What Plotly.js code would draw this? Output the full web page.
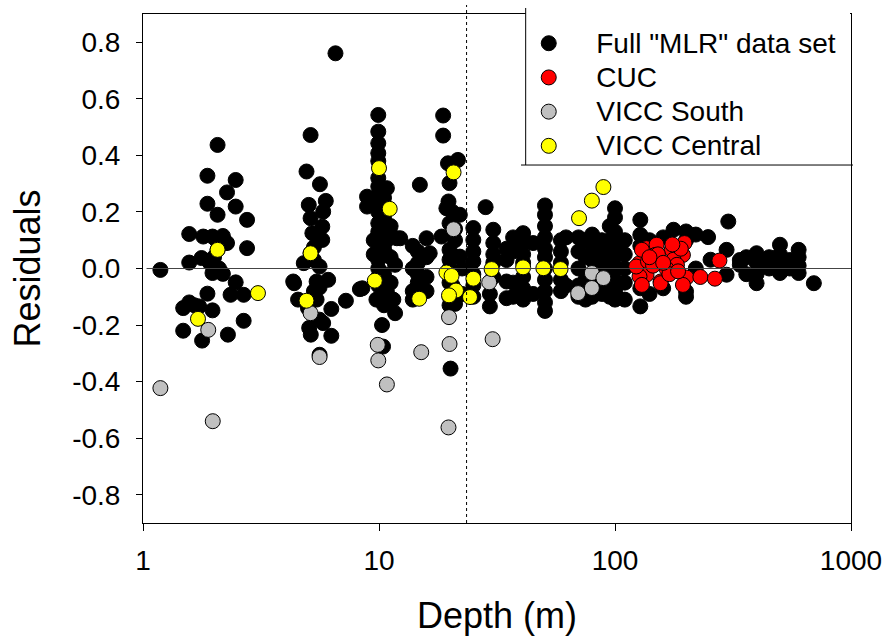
<!DOCTYPE html>
<html><head><meta charset="utf-8">
<script src="https://cdn.plot.ly/plotly-3.0.1.min.js"></script>
<style>html,body{margin:0;padding:0;background:#fff}</style>
</head><body><div id="chart" style="width:890px;height:637px"></div>
<script>
// Full "MLR" data set
const mlrDepth = [
 2.07,1.875,2.47,2.27,1.875,2.47,2.07,2.76,1.57,1.8,1.97,2.18,2.05,2.27,2.76,2.07,2.0,1.57,1.77,1.92,2.1,1.185,1.97,2.18,2.47,1.875,2.35,2.67,1.57,1.48,1.65,1.73,1.97,1.48,2.67,1.78,2.29,
 6.54,5.13,4.93,5.62,5.04,5.95,5.8,5.13,5.75,5.22,5.75,5.3,5.13,5.3,4.8,5.6,4.33,5.44,6.09,4.37,5.6,8.3,5.3,4.54,5.44,7.24,5.0,6.28,5.6,5.8,5.06,5.14,6.28,5.6,
 9.93,9.93,9.93,9.93,9.93,9.93,9.93,9.93,9.93,9.93,9.93,9.93,9.93,9.93,9.93,9.93,9.93,9.93,
 8.9,8.9,10.8,10.8,10.8,10.8,10.8,11.9,11.7,11.7,8.5,9.75,11.5,10.3,10.4,9.5,9.5,10.5,10.5,10.5,10.5,10.5,10.5,11.2,11.2,11.2,12.3,
 13.9,13.9,13.9,13.9,14.6,14.6,14.6,14.6,14.2,15.9,15.9,15.9,15.9,16.4,14.9,18.4,18.7,18.7,19.6,21.6,
 19.9,19.9,19.9,19.9,19.9,19.9,19.9,19.9,19.7,19.3,22,22,21,21,21,20.5,20.5,20.5,20.1,22.5,22.5,
 25.1,25.1,25.1,25.1,25.1,25.1,25.1,28.3,30.5,30.5,30.5,30.5,30.5,29.5,29.5,34.7,34.7,34.7,34.7,
 37,37,37,37,40.8,40.8,40.8,40.8,40.8,40.8,40.8,45,45,
 50.5,50.5,50.5,50.5,50.5,50.5,50.5,50.5,50.5,50.5,50.5,59,59,59,59,59,62,62,
 70,70,70,70,70,75,75,75,75,80,80,80,80,80,80,88,88,88,88,88,95,95,95,95,95,95,
 100,100,100,100,100,100,100,100,100,
 110,110,110,110,110,128,128,128,128,128,140,140,160,160,177,200,200,200,200,220,220,248,254,297,297,302,338,338,360,360,
 398,398,398,398,450,450,500,500,500,500,550,550,600,600,600,600,696
];
const mlrResid = [
 0.437,0.328,0.313,0.269,0.229,0.219,0.19,0.172,0.122,0.113,0.113,0.115,0.1,0.09,0.072,0.066,0.04,0.021,0.037,0.02,0.0,-0.005,-0.016,-0.019,-0.049,-0.089,-0.093,-0.093,-0.12,-0.14,-0.13,-0.134,-0.148,-0.22,-0.185,-0.255,-0.234,
 0.761,0.472,0.343,0.298,0.225,0.239,0.201,0.178,0.148,0.125,0.101,0.075,0.054,0.03,0.019,0.007,-0.046,-0.046,-0.04,-0.052,-0.067,-0.073,-0.08,-0.11,-0.11,-0.114,-0.14,-0.143,-0.181,-0.193,-0.21,-0.234,-0.238,-0.305,
 0.543,0.484,0.443,0.408,0.38,0.32,0.29,0.26,0.235,0.2,0.16,0.13,0.09,0.06,0.03,0.0,-0.03,-0.06,
 0.254,0.219,0.284,0.15,0.1,0.048,-0.081,0.107,0.013,-0.158,-0.07,-0.11,-0.11,-0.2,-0.276,0.1,0.05,0.25,0.18,0.12,0.07,-0.02,-0.13,0.15,0.04,-0.05,0.107,
 0.08,0.0,-0.08,-0.11,0.06,0.019,-0.02,-0.05,-0.099,0.107,0.04,-0.03,-0.08,0.054,0.296,0.113,0.541,0.47,0.372,0.384,
 0.302,0.16,0.066,0.031,0.0,-0.05,-0.1,-0.13,0.237,0.213,0.19,0.042,0.14,0.1,-0.125,0.2,0.12,-0.06,-0.354,0.0,-0.09,
 0.143,0.101,0.06,0.025,-0.02,-0.06,-0.1,0.217,0.137,0.09,0.05,0.02,-0.03,-0.09,-0.134,0.07,0.03,-0.046,-0.105,
 0.11,0.06,-0.05,-0.1,0.125,0.09,0.05,0.02,-0.03,-0.07,-0.11,0.09,-0.09,
 0.223,0.19,0.15,0.11,0.07,0.04,0.0,-0.04,-0.08,-0.12,-0.15,0.1,0.06,0.02,-0.04,-0.08,0.11,-0.06,
 0.11,0.06,0.0,-0.06,-0.1,0.1,0.04,-0.04,-0.11,0.12,0.08,0.03,-0.02,-0.08,-0.1,0.1,0.05,0.0,-0.05,-0.09,0.15,0.1,0.06,0.01,-0.05,-0.1,
 0.213,0.18,0.13,0.08,0.04,0.0,-0.04,-0.08,-0.11,
 0.1,0.05,0.0,-0.05,-0.11,0.172,0.119,0.08,-0.07,-0.134,0.1,-0.09,0.11,-0.07,0.137,0.131,0.1,-0.081,-0.1,0.12,0.0,0.111,0.031,0.066,-0.022,0.166,0.013,0.03,0.04,-0.02,
 0.054,0.02,-0.02,-0.052,0.04,0.0,0.084,0.05,0.02,-0.016,0.03,0.0,0.066,0.04,0.01,-0.016,-0.052
];
// CUC
const cucDepth = [136,150,148,174,197,194,177,127,136,156,201,230,265,277,194,127,130,152,123,130,156,138,183,165,145,170,185,160,140,190,175];
const cucResid = [0.072,0.084,0.048,0.066,0.09,0.048,0.031,0.019,-0.022,-0.046,-0.032,-0.03,-0.036,0.028,-0.058,-0.028,0.066,0.05,0.007,-0.058,-0.052,0.025,0.013,0.0,0.01,-0.02,-0.01,0.02,0.04,0.07,0.085];
// VICC South
const vsDepth = [1.185,1.975,1.89,5.13,5.6,9.88,9.93,10.8,15.1,19.9,19.8,19.7,20.7,29.3,30.3,69.8,79.8,79.8,89.3];
const vsResid = [-0.423,-0.54,-0.217,-0.158,-0.313,-0.27,-0.325,-0.41,-0.296,-0.267,-0.172,-0.562,0.139,-0.049,-0.25,-0.087,-0.016,-0.069,-0.034];
// VICC Central
const vcDepth = [2.07,1.71,3.07,5.13,4.93,10,11.1,9.6,20.7,19.3,20.3,21.2,19.8,24.3,14.8,30,25.1,40.8,49.7,58.8,70.4,79.8,89.3];
const vcResid = [0.066,-0.178,-0.087,0.054,-0.114,0.355,0.211,-0.043,0.34,-0.014,-0.026,-0.078,-0.095,-0.101,-0.107,-0.002,-0.036,0.004,0.001,-0.002,0.178,0.24,0.288];

const seriesNames = ['Full "MLR" data set','CUC','VICC South','VICC Central'];
const seriesColors = ['#000000','#ff0000','#c0c0c0','#ffff00'];
const xTickVals = [1,10,100,1000];
const xTickText = ['1','10','100','1000'];
const yTickVals = [-0.8,-0.6,-0.4,-0.2,0.0,0.2,0.4,0.6,0.8];
const yTickText = ['-0.8','-0.6','-0.4','-0.2','0.0','0.2','0.4','0.6','0.8'];
const dividerDepth = 23.5;

const xs = [mlrDepth,cucDepth,vsDepth,vcDepth];
const ys = [mlrResid,cucResid,vsResid,vcResid];
const FONT = 'Liberation Sans, Arial, sans-serif';

const traces = xs.map((x,i)=>({
  type:'scatter', mode:'markers', x:x, y:ys[i],
  name:'<span style="font-size:28px">'+seriesNames[i]+'</span>',
  marker:{size:15, color:seriesColors[i], line:{color:'#000', width:1}},
  hoverinfo:'x+y'
}));

const layout = {
  width:890, height:637,
  margin:{l:143, r:39, t:14, b:114, pad:0},
  paper_bgcolor:'#fff', plot_bgcolor:'#fff',
  font:{family:FONT, color:'#000', size:28},
  showlegend:true,
  legend:{x:0.506, y:0.986, xanchor:'left', yanchor:'top', bgcolor:'rgba(0,0,0,0)',
          borderwidth:0, font:{family:FONT, size:24, color:'#000'}, itemwidth:85, tracegroupgap:0},
  xaxis:{type:'log', range:[0,3], showgrid:false, zeroline:false,
         showline:true, mirror:true, linecolor:'#000', linewidth:1,
         ticks:'outside', ticklen:7, tickwidth:1, tickcolor:'#000',
         tickmode:'array', tickvals:xTickVals, ticktext:xTickText,
         ticklabelstandoff:5,
         tickfont:{family:FONT, size:28, color:'#000'},
         title:{text:'Depth (m)', font:{family:FONT, size:36, color:'#000'}, standoff:28}},
  yaxis:{range:[-0.9,0.9], showgrid:false, zeroline:false,
         showline:true, mirror:true, linecolor:'#000', linewidth:1,
         ticks:'outside', ticklen:6, tickwidth:1, tickcolor:'#000',
         tickmode:'array', tickvals:yTickVals, ticktext:yTickText,
         ticklabelstandoff:10,
         tickfont:{family:FONT, size:28, color:'#000'},
         title:{text:'Residuals', font:{family:FONT, size:36, color:'#000'}, standoff:20}},
  shapes:[
    {type:'line', xref:'paper', yref:'y', x0:0.005, x1:1, y0:0, y1:0, layer:'above', line:{color:'#444', width:1}},
    {type:'line', xref:'x', yref:'paper', x0:dividerDepth, x1:dividerDepth, y0:0, y1:1.0177, layer:'above', line:{color:'#000', width:1, dash:'dot'}},
    {type:'rect', xref:'paper', yref:'paper', x0:0.5405, x1:0.9986, y0:0.7033, y1:1.0118, layer:'above', fillcolor:'#fff', line:{width:0}},
    {type:'line', xref:'paper', yref:'paper', x0:0.5405, x1:0.5405, y0:0.7033, y1:1.0118, layer:'above', line:{color:'#000', width:1}},
    {type:'line', xref:'paper', yref:'paper', x0:0.5339, x1:1.0028, y0:0.7033, y1:0.7033, layer:'above', line:{color:'#000', width:1}}
  ]
};
Plotly.newPlot('chart', traces, layout, {displayModeBar:false, staticPlot:true});
</script></body></html>
